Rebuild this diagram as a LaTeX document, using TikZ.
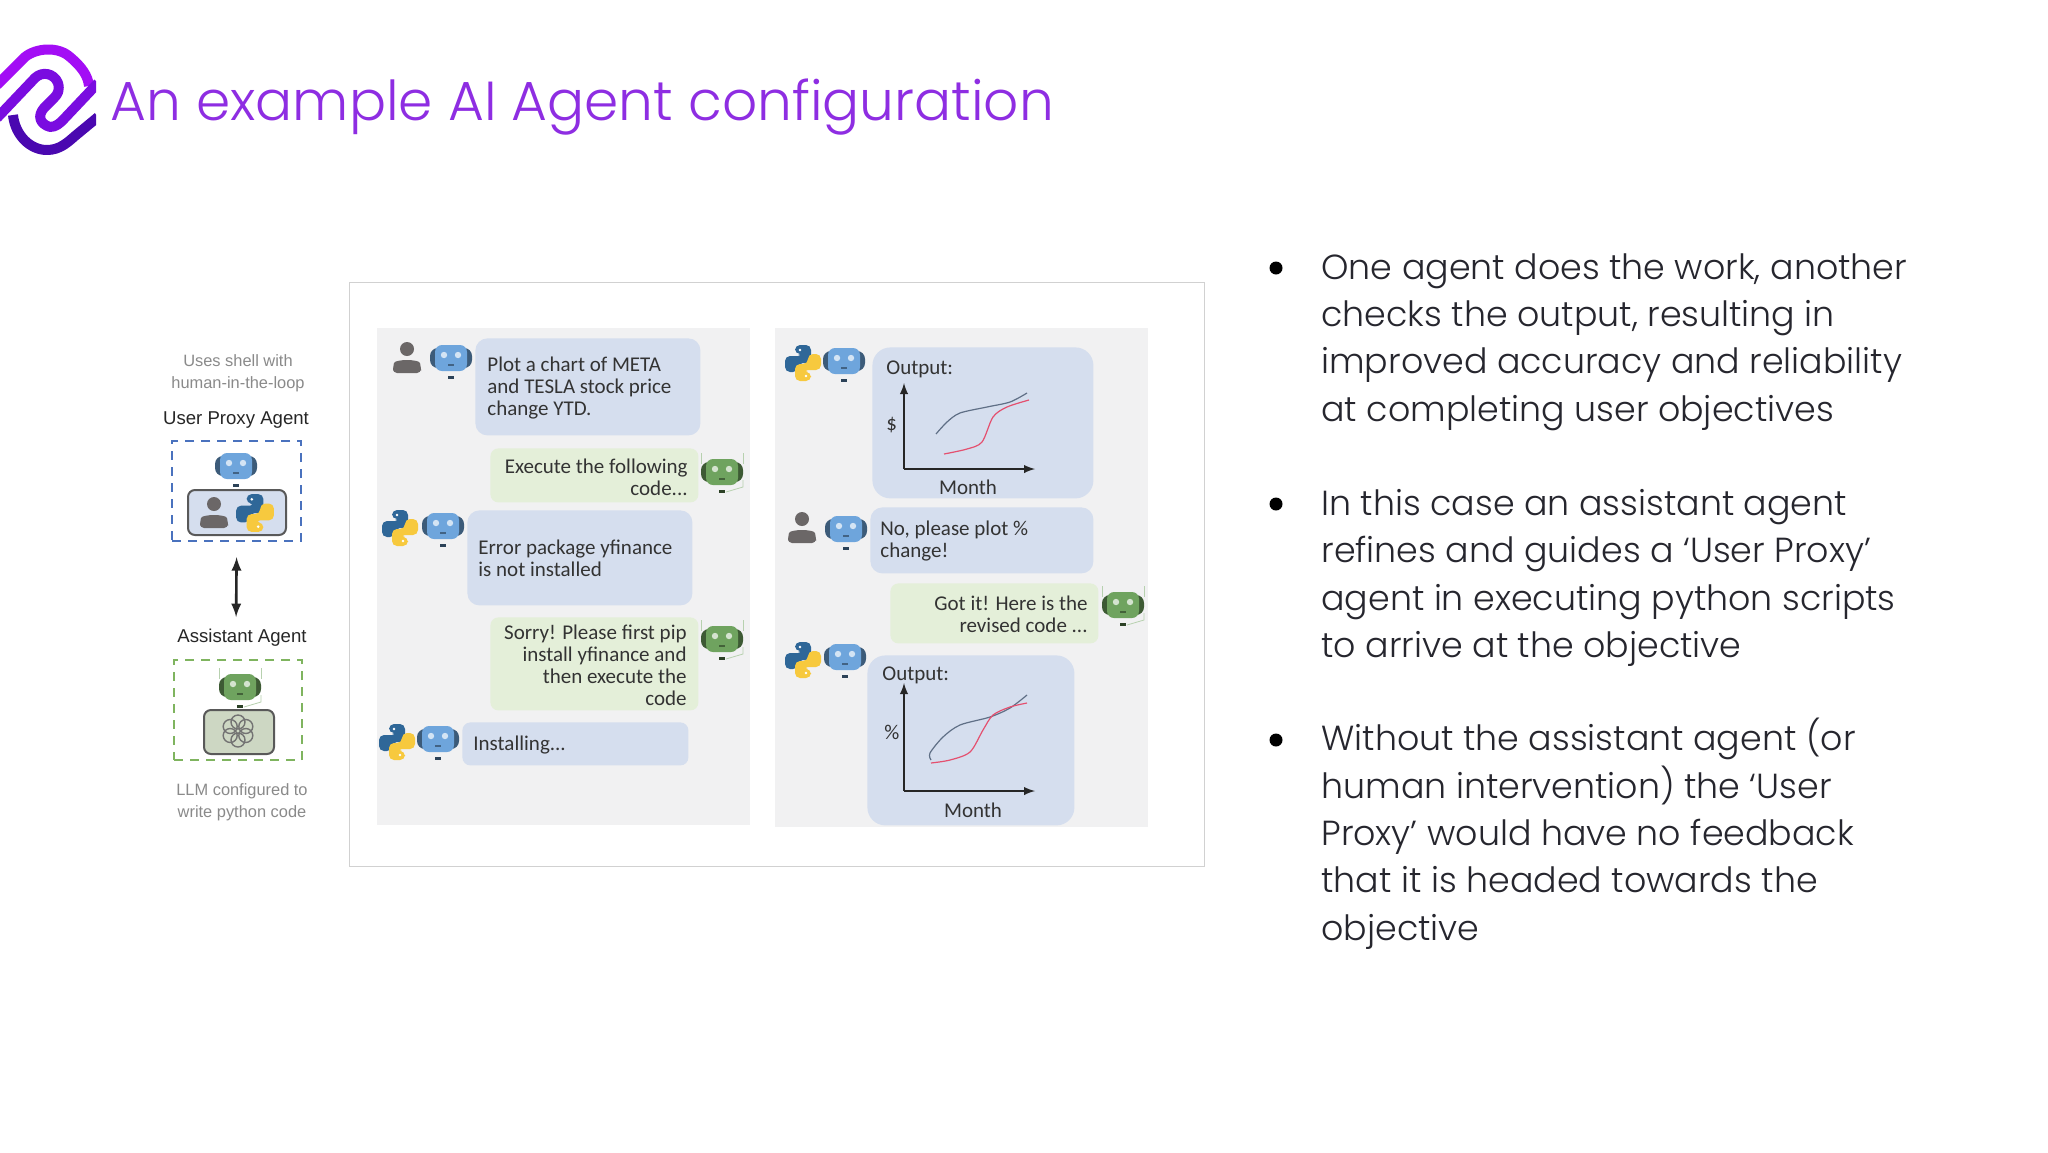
\documentclass[tikz,border=0pt]{standalone}
\usepackage{fontspec}
\usetikzlibrary{calc}
\setmainfont{Poppins}
\newfontfamily\titlefont{Poppins Light}
\newfontfamily\bodyfont{Poppins Light}
\newfontfamily\chatfont{Carlito}
\newfontfamily\sidefont{Liberation Sans}
\definecolor{titlepurple}{HTML}{8E2DE2}
\definecolor{logotop}{HTML}{A30DF5}
\definecolor{logomid}{HTML}{7A0CE0}
\definecolor{logolow}{HTML}{4A08B0}
\definecolor{bodygrey}{HTML}{26262E}
\definecolor{panelgrey}{HTML}{F1F1F2}
\definecolor{bluebub}{HTML}{D5DEEE}
\definecolor{greenbub}{HTML}{E4EFD9}
\definecolor{botblue}{HTML}{6EA5DC}
\definecolor{botgreen}{HTML}{6FA35F}
\definecolor{usergrey}{HTML}{6B6767}
\definecolor{pyblue}{HTML}{2F6798}
\definecolor{pyyellow}{HTML}{F7C93E}
\definecolor{dashblue}{HTML}{4A72BE}
\definecolor{dashgreen}{HTML}{7FB45F}
\definecolor{sidegrey}{HTML}{8A8A8A}
\definecolor{curvegrey}{HTML}{5F6F86}
\definecolor{curvepink}{HTML}{E4506F}
\tikzset{
botface/.pic={
\fill [#1!55!black,rounded corners=4pt] (-21,-10) rectangle (21,10);
\fill [#1,rounded corners=3.5pt] (-16,-13) rectangle (16,13);
\fill [white,opacity=.7] (-7,-3) circle (3.2);
\fill [white,opacity=.7] (7,-3) circle (3.2);
\fill [#1!60!black] (-3,6) rectangle (3,8);
\fill [#1!40!black] (-3,18) rectangle (3,21);
},
botwire/.pic={
\draw [botgreen!50,line width=.4pt] (-21,-8) -- (-21,-19);
\draw [botgreen!50,line width=.4pt] (21,-8) -- (21,-19);
\draw [botgreen!50,line width=.4pt] (21,8) -- (21,15) -- (4,20);
},
usericon/.pic={
\fill [usergrey] (0,-9) circle (7);
\fill [usergrey,rounded corners=2pt] (-14,15) -- (-14,9) .. controls (-12,1) and (12,1) .. (14,9) -- (14,15) -- cycle;
},
pyicon/.pic={
\fill [pyblue,rounded corners=2.5pt] (-8,-18) -- (8,-18) -- (8,0) -- (-5,0) -- (-5,9) -- (-18,9) -- (-18,-7) -- (0,-7) -- (0,-9) -- (-8,-9) -- cycle;
\fill [pyyellow,rounded corners=2.5pt] (8,18) -- (-8,18) -- (-8,1) -- (5,1) -- (5,-9) -- (18,-9) -- (18,7) -- (0,7) -- (0,9) -- (8,9) -- cycle;
\fill [white] (-3,-13) circle (1.4);
\fill [white] (3,13) circle (1.4);
}
}
\begin{document}
\begin{tikzpicture}[x=0.5pt,y=-0.5pt]
\tikzstyle{titletext}=[text=titlepurple,anchor=west,font=\titlefont\fontsize{27.5}{32}\selectfont]
\tikzstyle{bodytext}=[text=bodygrey,anchor=north west,align=left,inner sep=0,font=\bodyfont\fontsize{17.4}{23.65}\selectfont]
\tikzstyle{bulletdot}=[circle,fill=black,minimum size=6.5pt,inner sep=0]
\tikzstyle{frame}=[rectangle,draw=black!18,line width=.6pt,anchor=north west,inner sep=0]
\tikzstyle{panel}=[rectangle,fill=panelgrey,anchor=north west,inner sep=0]
\tikzstyle{bluebubble}=[rectangle,fill=bluebub,rounded corners=6pt,anchor=north west,inner sep=0]
\tikzstyle{greenbubble}=[rectangle,fill=greenbub,rounded corners=4pt,anchor=north west,inner sep=0]
\tikzstyle{chatleft}=[anchor=west,align=left,inner sep=0,text=black!80,font=\chatfont\fontsize{10.5}{11}\selectfont]
\tikzstyle{chatright}=[anchor=east,align=right,inner sep=0,text=black!80,font=\chatfont\fontsize{10.5}{11}\selectfont]
\tikzstyle{sidehead}=[inner sep=0,text=black!85,font=\sidefont\fontsize{9.3}{11}\selectfont]
\tikzstyle{sidenote}=[inner sep=0,align=center,text=sidegrey,font=\sidefont\fontsize{8.2}{11}\selectfont]
\tikzstyle{agentbox}=[rectangle,anchor=north west,line width=1.1pt,dash pattern=on 4.5pt off 3.5pt,inner sep=0]
\tikzstyle{iconbox}=[rectangle,anchor=north west,draw=black!65,line width=1pt,rounded corners=3.5pt,inner sep=0]
\tikzstyle{axisline}=[-latex,draw=black!85,line width=.9pt]
\tikzstyle{curve}=[line width=.6pt,smooth]
\useasboundingbox (0,0) rectangle (2048,1152);
\fill [white] (0,0) rectangle (2048,1152);
\begin{scope}[line width=5pt,line join=round]
\clip (0,40) rectangle (96,160);
\draw [logotop] (-3,85) -- (25,57) .. controls (36,48) and (58,46) .. (70,57) .. controls (82,67) and (88,76) .. (89,86);
\draw [logomid] (-3,118) -- (35,78) .. controls (42,71) and (54,73) .. (58,83) .. controls (60,90) and (58,94) .. (54,98) -- (44,108) .. controls (37,116) and (40,124) .. (50,127) .. controls (56,127) and (60,123) .. (63,120) -- (98,83);
\draw [logolow] (13,115) .. controls (15,135) and (30,150) .. (47,150) .. controls (60,150) and (68,142) .. (75,136) -- (98,117);
\end{scope}
\node [titletext] (title) at (103.5,107) {An example AI Agent configuration};
\node [frame,minimum width=427.5pt,minimum height=292pt] (frame) at (349,282) {};
\node [panel,minimum width=186.5pt,minimum height=248.5pt] (panelL) at (377,328) {};
\node [panel,minimum width=186.5pt,minimum height=249.5pt] (panelR) at (775,328) {};
\node [sidenote] (noteU) at (238,373) {Uses shell with\\human-in-the-loop};
\node [sidehead] (headU) at (236,420) {User Proxy Agent};
\node [agentbox,draw=dashblue,minimum width=64.5pt,minimum height=50pt] (boxU) at (171,440) {};
\pic at (236,466) {botface=botblue};
\node [iconbox,fill=bluebub,minimum width=49pt,minimum height=22.5pt] (iconU) at (187,489) {};
\pic at (214,513) {usericon};
\pic [scale=1.05] at (255,513) {pyicon};
\node [sidehead] (headA) at (242,638) {Assistant Agent};
\node [agentbox,draw=dashgreen,minimum width=64pt,minimum height=50pt] (boxA) at (173,659) {};
\pic at (240,687) {botwire};
\pic at (240,687) {botface=botgreen};
\node [iconbox,fill=greenbub!90!black,minimum width=35pt,minimum height=22pt] (iconA) at (203,709) {};
\begin{scope}[shift={(238,731)},draw=black!55,line width=.7pt]
\draw (0,-9) circle (7);
\draw (7.8,-4.5) circle (7);
\draw (7.8,4.5) circle (7);
\draw (0,9) circle (7);
\draw (-7.8,4.5) circle (7);
\draw (-7.8,-4.5) circle (7);
\end{scope}
\node [sidenote] (noteA) at (242,802) {LLM configured to\\write python code};
\coordinate (arrU) at ($(boxU.south)+(0,15)$);
\coordinate (arrA) at ($(boxA.north)+(-2,-42)$);
\draw [<->,>=latex,draw=black!85,line width=1.3pt] (arrU) -- (arrA);
\node [bluebubble,minimum width=112.5pt,minimum height=48.5pt] (msg1) at (475,338) {};
\node [chatleft] (txt1) at (487,388) {Plot a chart of META\\and TESLA stock price\\change YTD.};
\node [greenbubble,minimum width=104pt,minimum height=27pt] (msg2) at (490,448) {};
\node [chatright] (txt2) at (688,477) {Execute the following\\code...};
\node [bluebubble,minimum width=112.5pt,minimum height=47.5pt] (msg3) at (467,510) {};
\node [chatleft] (txt3) at (478,558) {Error package yfinance\\is not installed};
\node [greenbubble,minimum width=104pt,minimum height=46.5pt] (msg4) at (490,617) {};
\node [chatright] (txt4) at (687,665) {Sorry! Please first pip\\install yfinance and\\then execute the\\code};
\node [bluebubble,rounded corners=4pt,minimum width=113pt,minimum height=21.5pt] (msg5) at (462,722) {};
\node [chatleft] (txt5) at (473,745) {Installing...};
\pic at (407,358) {usericon};
\pic at (451,358) {botface=botblue};
\pic at (722,472) {botwire};
\pic at (722,472) {botface=botgreen};
\pic at (400,528) {pyicon};
\pic at (443,526) {botface=botblue};
\pic at (722,639) {botwire};
\pic at (722,639) {botface=botgreen};
\pic at (397,742) {pyicon};
\pic at (438,739) {botface=botblue};
\node [bluebubble,rounded corners=9pt,minimum width=110.5pt,minimum height=75.5pt] (msg6) at (872,347) {};
\node [chatleft] (txt6) at (886,369) {Output:};
\node [chatleft] (lab6) at (886,425) {\$};
\node [chatleft,anchor=center] (mon6) at (968,487) {Month};
\coordinate (orig6) at (904,469);
\coordinate (top6) at (904,383);
\coordinate (end6) at (1035,469);
\draw [axisline] (orig6) -- (top6);
\draw [axisline] (orig6) -- (end6);
\draw [curve,curvegrey] plot coordinates {(936,434) (947,422) (960,413) (987,407) (1010,402) (1027,393)};
\draw [curve,curvepink] plot coordinates {(944,454) (967,449) (982,442) (993,417) (1007,407) (1029,400)};
\node [bluebubble,minimum width=111.5pt,minimum height=33pt] (msg7) at (870,507) {};
\node [chatleft] (txt7) at (880,541) {No, please plot \%\\change!};
\node [greenbubble,minimum width=104pt,minimum height=30pt] (msg8) at (890,583) {};
\node [chatright] (txt8) at (1088,614) {Got it! Here is the\\revised code ...};
\node [bluebubble,rounded corners=9pt,minimum width=103.5pt,minimum height=85pt] (msg9) at (867,655) {};
\node [chatleft] (txt9) at (882,675) {Output:};
\node [chatleft] (lab9) at (884,732) {\%};
\node [chatleft,anchor=center] (mon9) at (973,810) {Month};
\coordinate (orig9) at (904,791);
\coordinate (top9) at (904,683);
\coordinate (end9) at (1035,791);
\draw [axisline] (orig9) -- (top9);
\draw [axisline] (orig9) -- (end9);
\draw [curve,curvegrey] plot coordinates {(931,760) (930,753) (943,737) (960,725) (990,717) (1010,708) (1027,695)};
\draw [curve,curvepink] plot coordinates {(931,763) (950,760) (970,752) (983,730) (993,715) (1010,707) (1027,703)};
\pic at (803,363) {pyicon};
\pic at (844,361) {botface=botblue};
\pic at (802,528) {usericon};
\pic at (846,529) {botface=botblue};
\pic at (1123,605) {botwire};
\pic at (1123,605) {botface=botgreen};
\pic at (803,660) {pyicon};
\pic at (845,657) {botface=botblue};
\node [bulletdot] (dot1) at (1276,268) {};
\node [bodytext] (para1) at (1321,253) {One agent does the work, another\\checks the output, resulting in\\improved accuracy and reliability\\at completing user objectives};
\node [bulletdot] (dot2) at (1276,504) {};
\node [bodytext] (para2) at (1321,489) {In this case an assistant agent\\refines and guides a ‘User Proxy’\\agent in executing python scripts\\to arrive at the objective};
\node [bulletdot] (dot3) at (1276,740) {};
\node [bodytext] (para3) at (1321,718) {Without the assistant agent (or\\human intervention) the ‘User\\Proxy’ would have no feedback\\that it is headed towards the\\objective};
\end{tikzpicture}
\end{document}
